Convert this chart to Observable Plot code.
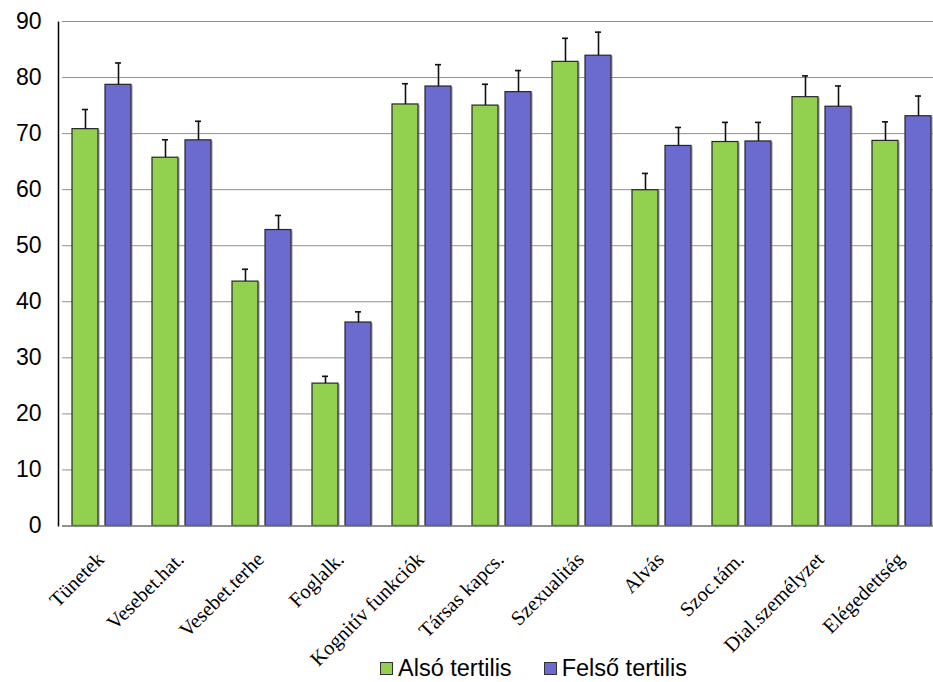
<!DOCTYPE html>
<html>
<head>
<meta charset="utf-8">
<script src="https://cdn.jsdelivr.net/npm/d3@7"></script>
<script src="https://cdn.jsdelivr.net/npm/@observablehq/plot@0.6"></script>
<style>
  html, body { margin: 0; padding: 0; background: #fff; overflow: hidden; }
  #wrap { position: relative; width: 933px; height: 682px; overflow: hidden; }
  #chart svg { max-width: none !important; display: block; }
  #legend {
    position: absolute; top: 655px; left: 380px;
    font-family: "Liberation Sans", Arial, sans-serif; font-size: 23.5px; color: #000;
    display: flex; gap: 32px; align-items: center; white-space: nowrap;
  }
  #legend .item { display: flex; align-items: center; gap: 5px; }
  #legend .sw { width: 11px; height: 11px; border: 1px solid #333; display: inline-block; }
</style>
</head>
<body>
<div id="wrap">
  <div id="chart"></div>
  <div id="legend"></div>
</div>
<script>
// Domain scores by tertile (mean with upper error bar)
const categories = ["Tünetek", "Vesebet.hat.", "Vesebet.terhe", "Foglalk.", "Kognitív funkciók",
  "Társas kapcs.", "Szexualitás", "Alvás", "Szoc.tám.", "Dial.személyzet", "Elégedettség"];
const seriesNames = ["Alsó tertilis", "Felső tertilis"];
const also = [70.8, 65.7, 43.6, 25.4, 75.2, 75.0, 82.8, 59.9, 68.5, 76.5, 68.7];
const alsoErr = [3.5, 3.2, 2.2, 1.3, 3.7, 3.8, 4.2, 3.0, 3.5, 3.8, 3.4];
const felso = [78.7, 68.8, 52.8, 36.3, 78.4, 77.4, 83.9, 67.8, 68.6, 74.8, 73.1];
const felsoErr = [3.9, 3.4, 2.6, 1.9, 3.9, 3.85, 4.2, 3.3, 3.4, 3.7, 3.6];
const yTicks = [0, 10, 20, 30, 40, 50, 60, 70, 80, 90];
const colors = ["#92d050", "#6b6bcf"];

const rows = [];
categories.forEach((c, i) => {
  rows.push({cat: c, series: seriesNames[0], value: also[i], upper: also[i] + alsoErr[i]});
  rows.push({cat: c, series: seriesNames[1], value: felso[i], upper: felso[i] + felsoErr[i]});
});

const chart = Plot.plot({
  width: 946,
  height: 682,
  marginLeft: 58,
  marginRight: 0,
  marginTop: 21,
  marginBottom: 156.5,
  style: {background: "transparent", maxWidth: "none"},
  fx: {domain: categories, padding: 0, label: null, axis: null},
  x: {domain: seriesNames, paddingInner: 0.2, paddingOuter: 0.3, axis: null},
  y: {domain: [0, 90], axis: null},
  color: {domain: seriesNames, range: colors},
  marks: [
    Plot.gridY(yTicks, {stroke: "#8f8f8f", strokeOpacity: 1}),
    // bar shadow
    Plot.barY(rows, {fx: "cat", x: "series", y: "value", fill: "#9a9a9a", fillOpacity: 0.55, dx: 2, dy: 1}),
    Plot.barY(rows, {fx: "cat", x: "series", y: "value", fill: "series", stroke: "#262626", strokeWidth: 1.2}),
    Plot.ruleX(rows, {fx: "cat", x: "series", y1: "value", y2: "upper", stroke: "#111", strokeWidth: 1.6}),
    Plot.tickY(rows, {fx: "cat", x: "series", y: "upper", stroke: "#111", strokeWidth: 1.6, insetLeft: 10, insetRight: 10}),
    Plot.ruleY([0], {stroke: "#808080", strokeWidth: 1.5}),
    Plot.axisY(yTicks, {
      tickSize: 0, tickPadding: 21, label: null, fontSize: 23,
      fontFamily: "Liberation Sans, Arial, sans-serif", fill: "#000"
    }),
    Plot.axisFx({
      anchor: "bottom", tickRotate: -45, tickSize: 0, tickPadding: 30, dx: -2, label: null, fontSize: 20.5,
      fontFamily: "Liberation Serif, Times New Roman, serif", fill: "#000"
    })
  ]
});
document.getElementById("chart").appendChild(chart);

// y axis line along the left edge of the plotting area
const svg = d3.select(chart);
svg.append("line")
  .attr("x1", 58.5).attr("x2", 58.5).attr("y1", 21.5).attr("y2", 526.5)
  .attr("stroke", "#000").attr("stroke-width", 1.5);

// legend
const legend = d3.select("#legend");
seriesNames.forEach((s, i) => {
  const item = legend.append("div").attr("class", "item");
  item.append("span").attr("class", "sw").style("background", colors[i]);
  item.append("span").text(s);
});
</script>
</body>
</html>
